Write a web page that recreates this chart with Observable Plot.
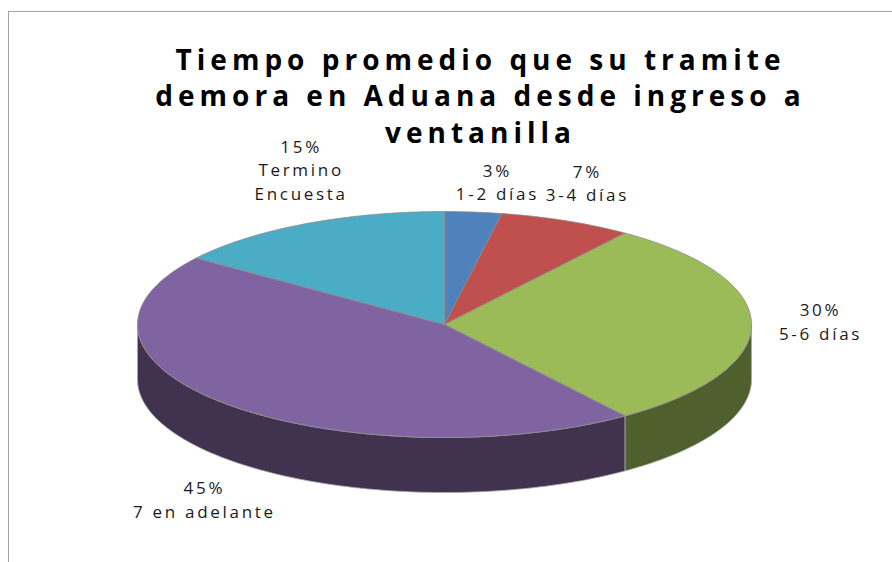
<!DOCTYPE html>
<html>
<head>
<meta charset="utf-8">
<script src="https://cdn.jsdelivr.net/npm/d3@7"></script>
<script src="https://cdn.jsdelivr.net/npm/@observablehq/plot@0.6"></script>
<style>
html,body{margin:0;padding:0;background:#fff}
#wrap{position:relative;width:892px;height:562px;overflow:hidden;background:#fff}
#frame{position:absolute;left:8px;top:11px;right:-4px;bottom:-4px;border:1.5px solid #a3a3a3}
#chart{position:absolute;left:0;top:0}
#chart svg{display:block;background:transparent}
.ttl{letter-spacing:5px}
.lbl{letter-spacing:2.7px}
</style>
</head>
<body>
<div id="wrap"><div id="frame"></div><div id="chart"></div></div>
<script>
const titleText = "Tiempo promedio que su tramite\ndemora en Aduana desde ingreso a\nventanilla";
const categories = ["1-2 días", "3-4 días", "5-6 días", "7 en adelante", "Termino\nEncuesta"];
const shares = [3, 7, 30, 45, 15];
const topColors = ["#4f81bd", "#c0504d", "#9bbb59", "#8064a2", "#4bacc6"];
const sideColors = ["#2f4d71", "#73302e", "#4f5f2e", "#41324f", "#2d6776"];
// label nudges from each slice's rim midpoint, in pixels
const labelNudge = [[24, -31], [21, -39], [69, -4], [-23, 94], [-4, -55]];

const depth = 55 / 113;          // wall height of the 3D pie, in radius units
const deg = Math.PI / 180;
const rimX = a => Math.sin(a);
const rimY = a => Math.cos(a);

const total = d3.sum(shares);
let acc = 0;
const slices = shares.map((v, i) => {
  const a0 = acc / total * 2 * Math.PI;
  acc += v;
  return {i, a0, a1: acc / total * 2 * Math.PI, mid: (acc - v / 2) / total * 2 * Math.PI};
});
const arc = (a0, a1) => d3.range(0, 1.0001, 1 / 90).map(t => a0 + (a1 - a0) * t);

const walls = [], tops = [], texts = [];
for (const s of slices) {
  // visible wall: only the front half of the rim (90° to 270°)
  const w0 = Math.max(s.a0, 90 * deg), w1 = Math.min(s.a1, 270 * deg);
  if (w1 > w0) {
    const top = arc(w0, w1).map(a => [rimX(a), rimY(a)]);
    const bottom = top.map(([x, y]) => [x, y - depth]).reverse();
    walls.push(Plot.line([...top, ...bottom, top[0]], {
      x: "0", y: "1", fill: sideColors[s.i], stroke: "#a8a8a8", strokeWidth: 0.8, curve: "linear"
    }));
  }
  const pts = [[0, 0], ...arc(s.a0, s.a1).map(a => [rimX(a), rimY(a)]), [0, 0]];
  tops.push(Plot.line(pts, {
    x: "0", y: "1", fill: topColors[s.i], stroke: "#8c8c8c", strokeWidth: 0.8, curve: "linear"
  }));
  texts.push(Plot.text([s], {
    x: d => rimX(d.mid), y: d => rimY(d.mid),
    text: d => `${shares[d.i]}%\n${categories[d.i]}`,
    dx: labelNudge[s.i][0], dy: labelNudge[s.i][1],
    fontSize: 17, lineHeight: 1.39, fill: "#1a1a1a", textAnchor: "middle",
    lineAnchor: "middle", className: "lbl"
  }));
}

const chart = Plot.plot({
  width: 892, height: 562,
  marginTop: 0, marginRight: 0, marginBottom: 0, marginLeft: 0,
  x: {domain: [-1, 1], range: [137, 751], axis: null},
  y: {domain: [-1, 1], range: [437, 211], axis: null},
  style: {fontFamily: "'Open Sans', Lato, sans-serif", background: "transparent"},
  marks: [
    ...walls,
    ...tops,
    ...texts,
    Plot.text([titleText], {
      frameAnchor: "top", dx: 34, dy: 43, text: d => d,
      fontSize: 28, fontWeight: "bold", lineHeight: 1.31, fill: "#000",
      lineAnchor: "top", textAnchor: "middle", className: "ttl"
    })
  ]
});
document.getElementById("chart").appendChild(chart);
</script>
</body>
</html>
